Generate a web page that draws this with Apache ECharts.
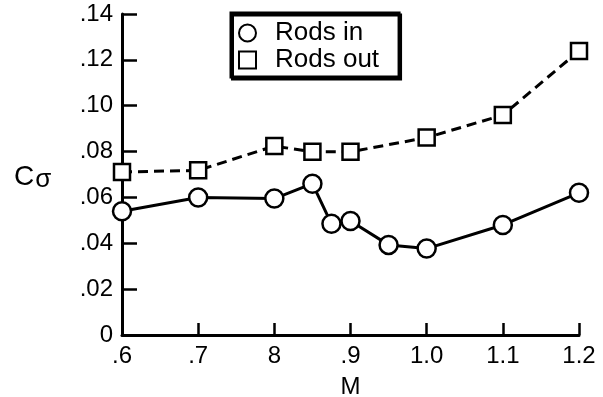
<!DOCTYPE html>
<html>
<head>
<meta charset="utf-8">
<script src="https://cdn.jsdelivr.net/npm/echarts@6/dist/echarts.min.js"></script>
<style>
  html, body { margin: 0; padding: 0; background: #fff; }
  #chart { width: 603px; height: 397px; }
</style>
</head>
<body>
<div id="chart"></div>
<script>
// Mach numbers and section coefficient values
const machIn = [0.6, 0.7, 0.8, 0.85, 0.875, 0.9, 0.95, 1.0, 1.1, 1.2];
const rodsIn = [0.054, 0.060, 0.0595, 0.066, 0.0485, 0.0497, 0.0393, 0.0377, 0.048, 0.062];
const machOut = [0.6, 0.7, 0.8, 0.85, 0.9, 1.0, 1.1, 1.2];
const rodsOut = [0.0711, 0.0718, 0.0824, 0.0799, 0.0799, 0.0861, 0.0959, 0.1239];

const xTickLabels = { 6: '.6', 7: '.7', 8: '8', 9: '.9', 10: '1.0', 11: '1.1', 12: '1.2' };
const yTickLabels = { 0: '0', 2: '.02', 4: '.04', 6: '.06', 8: '.08', 10: '.10', 12: '.12', 14: '.14' };

const FONT = 'Liberation Sans, Arial, Helvetica, sans-serif';

const chart = echarts.init(document.getElementById('chart'), null, { renderer: 'canvas' });

chart.setOption({
  animation: false,
  backgroundColor: '#fff',
  grid: {
    left: 122, top: 14, width: 457, height: 321,
    containLabel: false, outerBoundsMode: 'none'
  },
  xAxis: {
    type: 'value',
    min: 0.6, max: 1.2, interval: 0.1,
    name: 'M',
    nameLocation: 'middle',
    nameGap: 40,
    nameTextStyle: { color: '#000', fontSize: 24, fontFamily: FONT },
    axisLine: { lineStyle: { color: '#000', width: 3 } },
    axisTick: { inside: true, length: 12, lineStyle: { color: '#000', width: 2.5 } },
    splitLine: { show: false },
    axisLabel: {
      color: '#000', fontSize: 24, fontFamily: FONT, margin: 9,
      formatter: v => xTickLabels[Math.round(v * 10)]
    }
  },
  yAxis: {
    type: 'value',
    min: 0, max: 0.14, interval: 0.02,
    axisLine: { lineStyle: { color: '#000', width: 3 } },
    axisTick: { inside: true, length: 15, lineStyle: { color: '#000', width: 2.5 } },
    splitLine: { show: false },
    axisLabel: {
      color: '#000', fontSize: 24, fontFamily: FONT, margin: 9,
      formatter: v => yTickLabels[Math.round(v * 100)]
    }
  },
  legend: {
    orient: 'vertical',
    left: 231, top: 13,
    padding: [7, 20, 4, 7],
    itemGap: 1,
    itemWidth: 17, itemHeight: 17,
    borderColor: '#000', borderWidth: 3, borderRadius: 0,
    backgroundColor: '#fff',
    shadowColor: '#000', shadowBlur: 0, shadowOffsetX: 1.5, shadowOffsetY: 2,
    textStyle: { color: '#000', fontSize: 26, fontFamily: FONT, padding: [0, 0, 0, 14] },
    data: [
      { name: 'Rods in', icon: 'circle' },
      { name: 'Rods out', icon: 'rect' }
    ]
  },
  graphic: [
    {
      type: 'text', left: 14, top: 163,
      style: {
        text: '{c|C}{s|σ}',
        rich: {
          c: { fontSize: 28, fontFamily: FONT, fill: '#000' },
          s: { fontSize: 26, fontFamily: FONT, fill: '#000', padding: [6, 0, 0, 1] }
        }
      }
    }
  ],
  series: [
    {
      name: 'Rods in',
      type: 'line',
      data: machIn.map((m, i) => [m, rodsIn[i]]),
      symbol: 'circle',
      symbolSize: 18,
      lineStyle: { color: '#000', width: 3, type: 'solid' },
      itemStyle: { color: '#fff', borderColor: '#000', borderWidth: 2.5 },
      z: 3
    },
    {
      name: 'Rods out',
      type: 'line',
      data: machOut.map((m, i) => [m, rodsOut[i]]),
      symbol: 'rect',
      symbolSize: 16,
      lineStyle: { color: '#000', width: 3, type: [10, 6] },
      itemStyle: { color: '#fff', borderColor: '#000', borderWidth: 2.5 },
      z: 3
    }
  ]
});
</script>
</body>
</html>
